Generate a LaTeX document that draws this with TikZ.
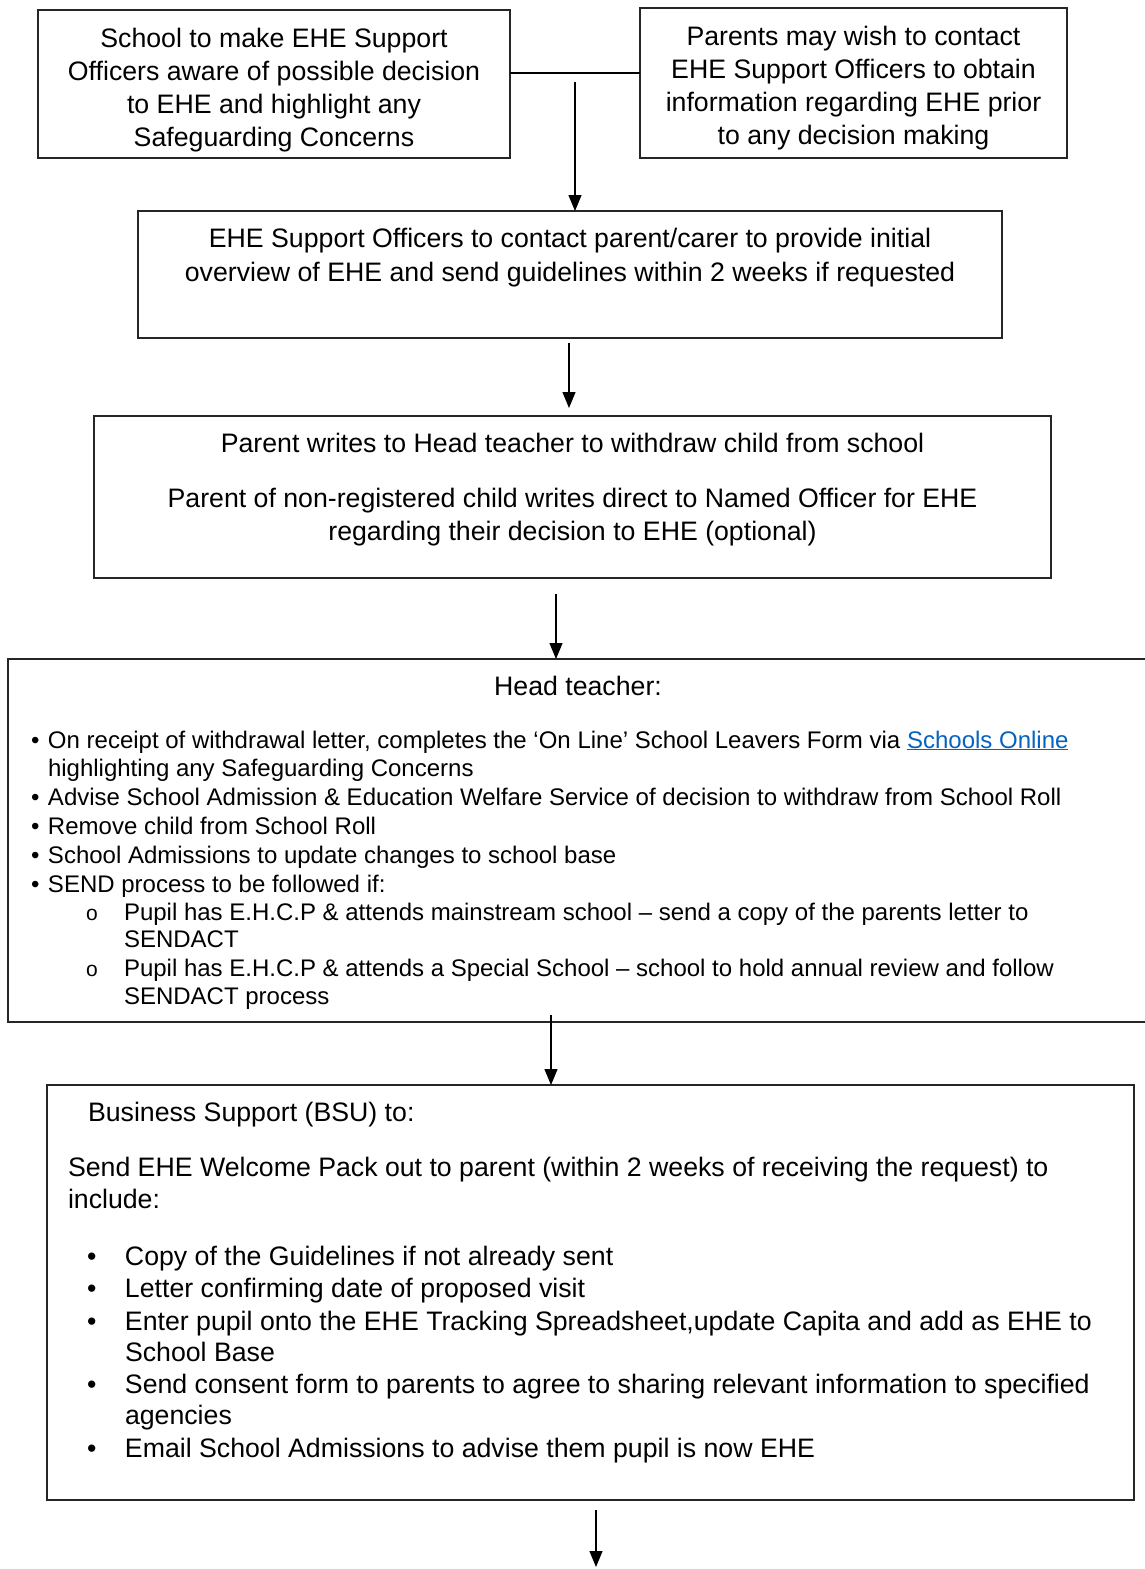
\documentclass[tikz,border=0pt]{standalone}
\usepackage{fontspec}
\setmainfont{Liberation Sans}
\usetikzlibrary{arrows.meta}
\definecolor{linkblue}{HTML}{0563C1}
\begin{document}
\begin{tikzpicture}[x=1pt,y=-1pt,
  box/.style={draw=black!85, line width=1.4pt, inner sep=0pt, outer sep=0pt},
  tA/.style={inner sep=0pt, outer sep=0pt, font=\fontsize{26.7}{30}\selectfont},
  tB/.style={inner sep=0pt, outer sep=0pt, font=\fontsize{24}{28}\selectfont},
  tC/.style={inner sep=0pt, outer sep=0pt, font=\fontsize{26.7}{30}\selectfont},
  conn/.style={line width=1.3pt},
  arr/.style={line width=1.3pt, -{Triangle[width=13pt,length=16pt]}}]
\useasboundingbox (0,0) rectangle (1145,1569);
\fill[white] (0,0) rectangle (1145,1569);

% boxes
\node[box, minimum width=472pt, minimum height=148pt] (b1) at (274,84) {};
\node[box, minimum width=427pt, minimum height=150pt] (b2) at (853.5,83) {};
\node[box, minimum width=864pt, minimum height=127pt] (b3) at (570,274.5) {};
\node[box, minimum width=957pt, minimum height=162pt] (b4) at (572.5,497) {};
\node[box, minimum width=1160pt, minimum height=363pt] (b5) at (588,840.5) {};
\node[box, minimum width=1087pt, minimum height=415pt] (b6) at (590.5,1292.5) {};

% box 1 text
\node[tA, anchor=base] (b1a) at (274,47) {School to make EHE Support};
\node[tA, anchor=base] (b1b) at (274,80) {Officers aware of possible decision};
\node[tA, anchor=base] (b1c) at (274,113) {to EHE and highlight any};
\node[tA, anchor=base] (b1d) at (274,146) {Safeguarding Concerns};

% box 2 text
\node[tA, anchor=base] (b2a) at (853.5,45) {Parents may wish to contact};
\node[tA, anchor=base] (b2b) at (853.5,78) {EHE Support Officers to obtain};
\node[tA, anchor=base] (b2c) at (853.5,111) {information regarding EHE prior};
\node[tA, anchor=base] (b2d) at (853.5,144) {to any decision making};

% box 3 text
\node[tA, anchor=base] (b3a) at (570,247) {EHE Support Officers to contact parent/carer to provide initial};
\node[tA, anchor=base] (b3b) at (570,281) {overview of EHE and send guidelines within 2 weeks if requested};

% box 4 text
\node[tA, anchor=base] (b4a) at (572.5,452) {Parent writes to Head teacher to withdraw child from school};
\node[tA, anchor=base] (b4b) at (572.5,507) {Parent of non-registered child writes direct to Named Officer for EHE};
\node[tA, anchor=base] (b4c) at (572.5,540) {regarding their decision to EHE (optional)};

% box 5 text
\node[tA, anchor=base] (b5h) at (578,695) {Head teacher:};
\node[tB, anchor=base west] (b5a) at (31,748) {\makebox[17pt][l]{•}On receipt of withdrawal letter, completes the ‘On Line’ School Leavers Form via \textcolor{linkblue}{\underline{Schools Online}}};
\node[tB, anchor=base west] (b5b) at (48,776) {highlighting any Safeguarding Concerns};
\node[tB, anchor=base west] (b5c) at (31,805) {\makebox[17pt][l]{•}Advise School Admission \& Education Welfare Service of decision to withdraw from School Roll};
\node[tB, anchor=base west] (b5d) at (31,834) {\makebox[17pt][l]{•}Remove child from School Roll};
\node[tB, anchor=base west] (b5e) at (31,863) {\makebox[17pt][l]{•}School Admissions to update changes to school base};
\node[tB, anchor=base west] (b5f) at (31,892) {\makebox[17pt][l]{•}SEND process to be followed if:};
\node[tB, anchor=base west] (b5g) at (86,920) {\makebox[38pt][l]{\fontsize{21}{24}\selectfont o}Pupil has E.H.C.P \& attends mainstream school – send a copy of the parents letter to};
\node[tB, anchor=base west] (b5i) at (124,947) {SENDACT};
\node[tB, anchor=base west] (b5j) at (86,976) {\makebox[38pt][l]{\fontsize{21}{24}\selectfont o}Pupil has E.H.C.P \& attends a Special School – school to hold annual review and follow};
\node[tB, anchor=base west] (b5k) at (124,1004) {SENDACT process};

% box 6 text
\node[tC, anchor=base west] (b6h) at (88,1121.5) {Business Support (BSU) to:};
\node[tC, anchor=base west] (b6a) at (68,1176.5) {Send EHE Welcome Pack out to parent (within 2 weeks of receiving the request) to};
\node[tC, anchor=base west] (b6b) at (68,1208.5) {include:};
\node[tC, anchor=base west] (b6c) at (87,1265) {\makebox[38pt][l]{•}Copy of the Guidelines if not already sent};
\node[tC, anchor=base west] (b6d) at (87,1297) {\makebox[38pt][l]{•}Letter confirming date of proposed visit};
\node[tC, anchor=base west] (b6e) at (87,1330) {\makebox[38pt][l]{•}Enter pupil onto the EHE Tracking Spreadsheet,update Capita and add as EHE to};
\node[tC, anchor=base west] (b6f) at (125,1361) {School Base};
\node[tC, anchor=base west] (b6g) at (87,1393) {\makebox[38pt][l]{•}Send consent form to parents to agree to sharing relevant information to specified};
\node[tC, anchor=base west] (b6i) at (125,1424) {agencies};
\node[tC, anchor=base west] (b6j) at (87,1457) {\makebox[38pt][l]{•}Email School Admissions to advise them pupil is now EHE};

% connectors
\draw[conn] ([yshift=11pt]b1.east) -- ([yshift=11pt]b1.east -| b2.west);
\coordinate (s1) at (575,82);
\draw[arr] (s1) -- (s1 |- b3.north);
\coordinate (s2) at (569,343);
\coordinate (e2) at (569,408);
\draw[arr] (s2) -- (e2);
\coordinate (s3) at (556,594);
\draw[arr] (s3) -- (s3 |- b5.north);
\coordinate (s4) at (551,1015);
\draw[arr] (s4) -- (s4 |- b6.north);
\coordinate (s5) at (596,1510);
\coordinate (e5) at (596,1567);
\draw[arr] (s5) -- (e5);
\end{tikzpicture}
\end{document}
